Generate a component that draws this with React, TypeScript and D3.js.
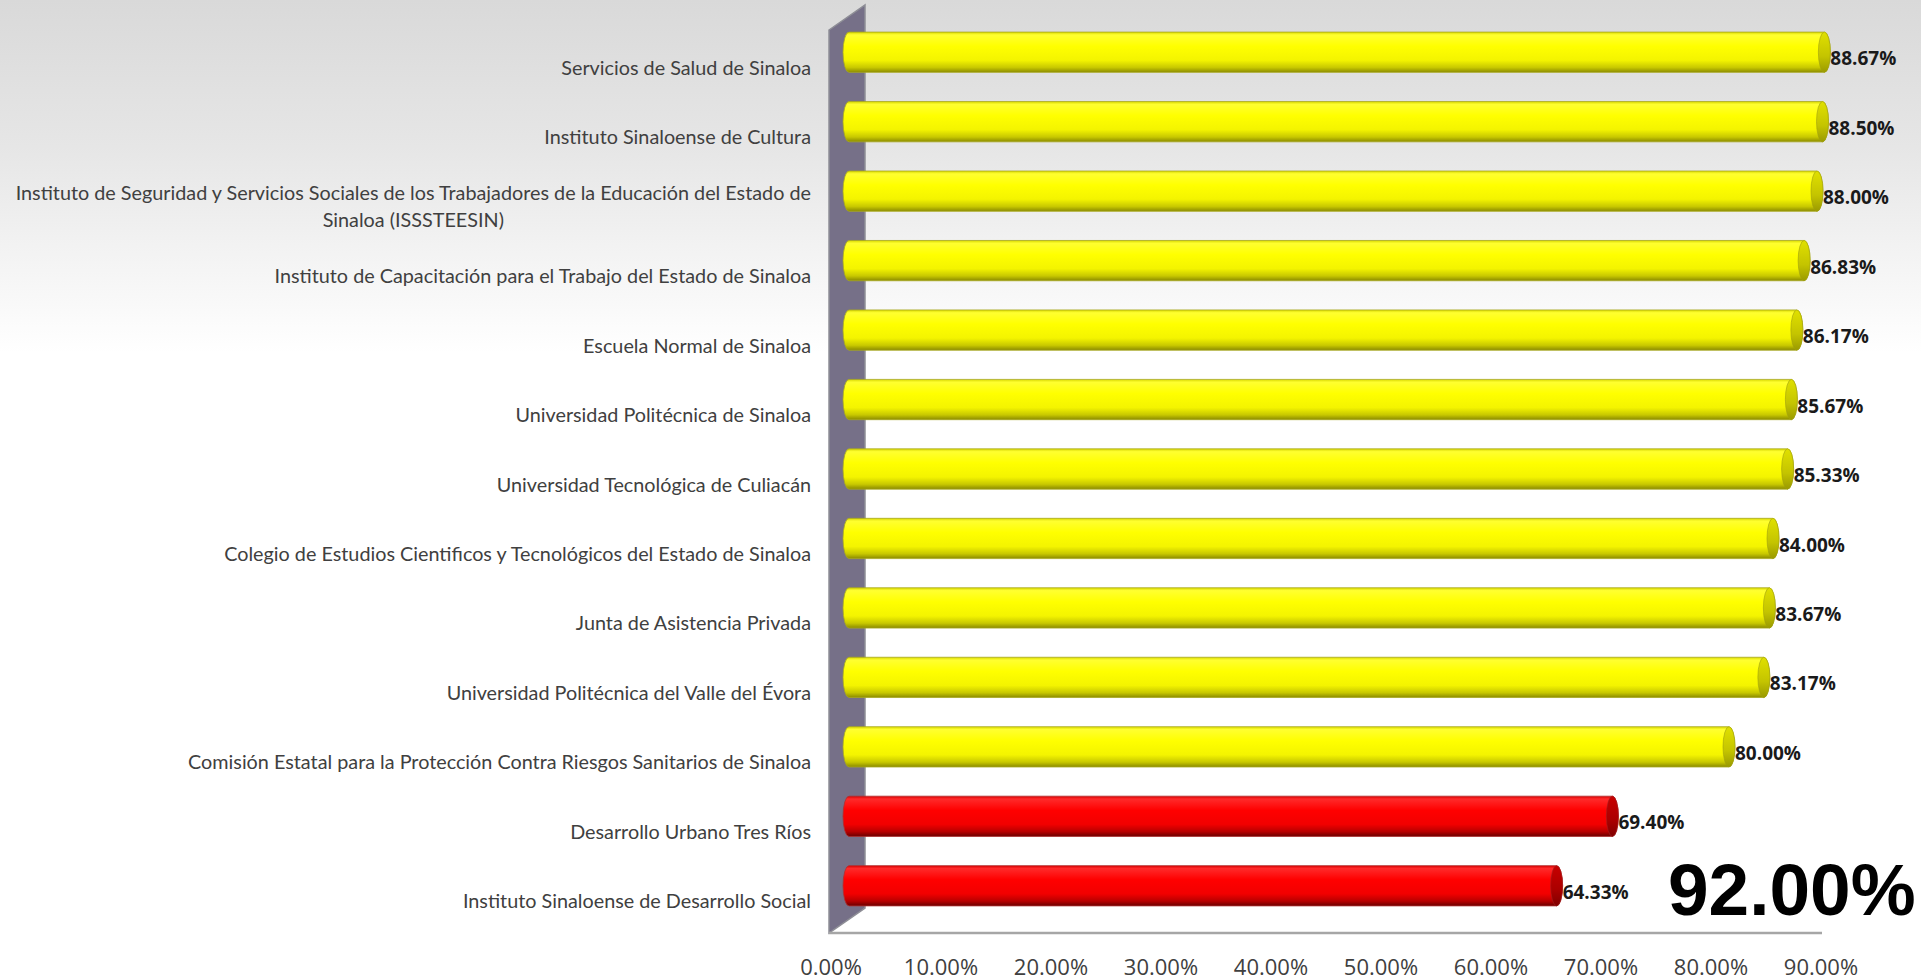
import React, { useEffect, useRef } from "react";
import * as d3 from "d3";

const categories = [
  "Servicios de Salud de Sinaloa",
  "Instituto Sinaloense de Cultura",
  "Instituto de Seguridad y Servicios Sociales de los Trabajadores de la Educación del Estado de\nSinaloa (ISSSTEESIN)",
  "Instituto de Capacitación para el Trabajo del Estado de Sinaloa",
  "Escuela Normal de Sinaloa",
  "Universidad Politécnica de Sinaloa",
  "Universidad Tecnológica de Culiacán",
  "Colegio de Estudios Cientificos y Tecnológicos del Estado de Sinaloa",
  "Junta de Asistencia Privada",
  "Universidad Politécnica del Valle del Évora",
  "Comisión Estatal para la Protección Contra Riesgos Sanitarios de Sinaloa",
  "Desarrollo Urbano Tres Ríos",
  "Instituto Sinaloense de Desarrollo Social",
];
const values = [88.67, 88.5, 88.0, 86.83, 86.17, 85.67, 85.33, 84.0, 83.67, 83.17, 80.0, 69.4, 64.33];
const ticks = [0, 10, 20, 30, 40, 50, 60, 70, 80, 90];
const totalValue = 92.0;
const redThreshold = 75;

const W = 1921;
const H = 980;

export default function App() {
  const ref = useRef<SVGSVGElement>(null);

  useEffect(() => {
    document.body.style.margin = "0";
    document.body.style.overflow = "hidden";
    const svg = d3.select(ref.current);
    svg.selectAll("*").remove();

    const front = { top: 30, bottom: 933 };
    const depth = { dx: 36, dy: -25 };
    const x = d3.scaleLinear().domain([0, 90]).range([831, 1821]);
    const y = d3
      .scaleBand<string>()
      .domain(categories)
      .range([front.top, front.bottom])
      .paddingInner(0.42)
      .paddingOuter(0.21);
    const bw = y.bandwidth();
    const bdx = depth.dx / 2;
    const bdy = depth.dy / 2;
    const rx = 6;

    const defs = svg.append("defs");
    const bg = defs
      .append("linearGradient")
      .attr("id", "bg")
      .attr("x1", 0)
      .attr("y1", 0)
      .attr("x2", 0)
      .attr("y2", 1);
    bg.append("stop").attr("offset", 0).attr("stop-color", "#d9d9d9");
    bg.append("stop").attr("offset", 0.15).attr("stop-color", "#e6e6e6");
    bg.append("stop").attr("offset", 0.36).attr("stop-color", "#ffffff");
    bg.append("stop").attr("offset", 1).attr("stop-color", "#ffffff");

    const mkGrad = (id: string, stops: [number, string][]) => {
      const g = defs
        .append("linearGradient")
        .attr("id", id)
        .attr("x1", 0)
        .attr("y1", 0)
        .attr("x2", 0)
        .attr("y2", 1);
      stops.forEach(([o, c]) => g.append("stop").attr("offset", o).attr("stop-color", c));
    };
    mkGrad("gy", [
      [0, "#d8d800"],
      [0.07, "#ffff30"],
      [0.35, "#ffff00"],
      [0.7, "#f4f400"],
      [0.88, "#c8c800"],
      [1, "#8a8a00"],
    ]);
    mkGrad("gr", [
      [0, "#d80000"],
      [0.07, "#ff2a2a"],
      [0.35, "#ff0000"],
      [0.7, "#f20000"],
      [0.88, "#b80000"],
      [1, "#6a0000"],
    ]);
    mkGrad("cy", [
      [0, "#e0e000"],
      [0.6, "#c4c400"],
      [1, "#9a9a00"],
    ]);
    mkGrad("cr", [
      [0, "#c80000"],
      [0.6, "#aa0000"],
      [1, "#800000"],
    ]);

    svg.append("rect").attr("width", W).attr("height", H).attr("fill", "url(#bg)");

    // side wall
    const wx = x(0) - 2;
    svg
      .append("polygon")
      .attr(
        "points",
        [
          [wx, front.top],
          [wx + depth.dx, front.top + depth.dy],
          [wx + depth.dx, front.bottom + depth.dy],
          [wx, front.bottom],
        ]
          .map((p) => p.join(","))
          .join(" ")
      )
      .attr("fill", "#767088")
      .attr("stroke", "#8e8e96")
      .attr("stroke-width", 1.5);

    // floor front edge
    svg
      .append("line")
      .attr("x1", wx)
      .attr("x2", x(90) + 1)
      .attr("y1", front.bottom)
      .attr("y2", front.bottom)
      .attr("stroke", "#a6a6a6")
      .attr("stroke-width", 2.5);

    // bars
    const bars = svg.append("g");
    categories.forEach((c, i) => {
      const v = values[i];
      const red = v < redThreshold;
      const x0 = x(0) + bdx;
      const x1 = x(v) + bdx;
      const yt = (y(c) as number) + bdy;
      const yb = yt + bw;
      const ry = bw / 2;
      const g = bars.append("g");
      g.append("path")
        .attr(
          "d",
          `M${x0},${yt} L${x1},${yt} A${rx},${ry} 0 0 1 ${x1},${yb} L${x0},${yb} A${rx},${ry} 0 0 1 ${x0},${yt} Z`
        )
        .attr("fill", red ? "url(#gr)" : "url(#gy)")
        .attr("stroke", red ? "#b03030" : "#a8a820")
        .attr("stroke-width", 0.8);
      g.append("ellipse")
        .attr("cx", x1)
        .attr("cy", yt + ry)
        .attr("rx", rx)
        .attr("ry", ry)
        .attr("fill", red ? "url(#cr)" : "url(#cy)")
        .attr("stroke", red ? "#a02020" : "#a0a010")
        .attr("stroke-width", 0.6);
      g.append("text")
        .attr("x", x1 + rx)
        .attr("y", yt + ry + 8)
        .attr("dominant-baseline", "middle")
        .attr("font-family", "'Open Sans', sans-serif")
        .attr("font-weight", 700)
        .attr("font-size", 19)
        .attr("fill", "#1a1a1a")
        .text(d3.format(".2f")(v) + "%");
    });

    // category labels
    const labelRight = 811;
    const lineH = 27;
    const cats = svg.append("g");
    categories.forEach((c) => {
      const lines = c.split("\n");
      const cy = (y(c) as number) + bw / 2 + 5;
      const t = cats
        .append("text")
        .attr("font-family", "Lato, sans-serif")
        .attr("font-size", 19.8)
        .attr("fill", "#404040")
        .attr("dominant-baseline", "middle");
      const spans = lines.map((ln, k) =>
        t
          .append("tspan")
          .attr("y", cy + (k - (lines.length - 1) / 2) * lineH)
          .text(ln)
      );
      const widths = spans.map((s) => (s.node() as SVGTSpanElement).getComputedTextLength());
      const maxW = Math.max(...widths);
      spans.forEach((s) => s.attr("x", labelRight - maxW / 2).attr("text-anchor", "middle"));
    });

    // x tick labels
    svg
      .append("g")
      .selectAll("text")
      .data(ticks)
      .join("text")
      .attr("x", (d) => x(d))
      .attr("y", 969)
      .attr("text-anchor", "middle")
      .attr("dominant-baseline", "middle")
      .attr("font-family", "'Open Sans', sans-serif")
      .attr("font-size", 22)
      .attr("fill", "#404040")
      .text((d) => d3.format(".2f")(d) + "%");

    // total annotation
    svg
      .append("text")
      .attr("x", 1668)
      .attr("y", 915)
      .attr("font-family", "'Liberation Sans', Arial, sans-serif")
      .attr("font-weight", 700)
      .attr("font-size", 73)
      .attr("fill", "#000")
      .text(d3.format(".2f")(totalValue) + "%");
  }, []);

  return (
    <svg
      ref={ref}
      width={W}
      height={H}
      style={{ position: "absolute", left: 0, top: 0, display: "block" }}
    />
  );
}
